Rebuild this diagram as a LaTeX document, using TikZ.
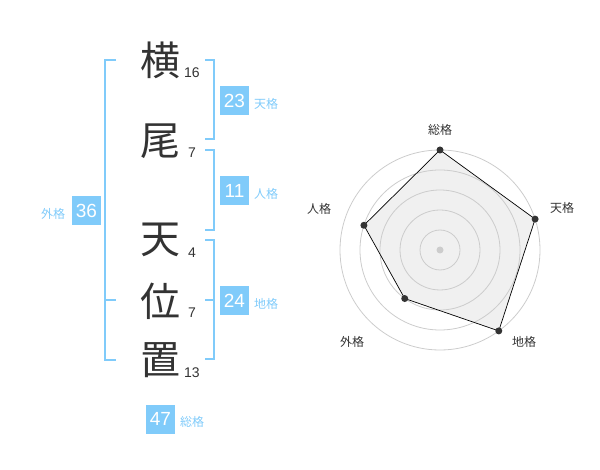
\documentclass[tikz,border=0pt]{standalone}
\usepackage{fontspec}
\setmainfont{Liberation Sans}
\newfontfamily\cjk{Noto Sans CJK JP}
\definecolor{kakublue}{HTML}{80CBFA}
\definecolor{inkgray}{HTML}{333333}
\definecolor{ringgray}{HTML}{CCCCCC}
\definecolor{areagray}{HTML}{F0F0F0}
\tikzset{
	kanji/.style={text=inkgray, font=\cjk\fontsize{40}{40}\selectfont, inner sep=0pt},
	kakusu/.style={text=inkgray, font=\fontsize{14}{14}\selectfont, inner sep=0pt},
	kakubox/.style={fill=kakublue, text=white, minimum size=29pt, inner sep=0pt, font=\fontsize{19}{19}\selectfont},
	kakuname/.style={text=kakublue, font=\cjk\fontsize{12}{12}\selectfont, inner sep=0pt},
	bracket/.style={draw=kakublue, line width=2pt},
	axisname/.style={text=inkgray, font=\cjk\fontsize{12}{12}\selectfont, inner sep=0pt},
	ring/.style={draw=ringgray, line width=0.8pt},
	dot/.style={circle, fill=inkgray, inner sep=0pt, minimum size=7pt},
}
\begin{document}
\begin{tikzpicture}[x=1pt, y=-1pt]
		\useasboundingbox (0,0) rectangle (600,470);

		% name
		\node[kanji] (sei1) at (160,60) {横};
		\node[kanji] (sei2) at (160,141) {尾};
		\node[kanji] (mei1) at (160,240) {天};
		\node[kanji] (mei2) at (160,301) {位};
		\node[kanji] (mei3) at (160,360) {置};

		\node[kakusu] (n1) at (192,73) {16};
		\node[kakusu] (n2) at (192,153) {7};
		\node[kakusu] (n3) at (192,253) {4};
		\node[kakusu] (n4) at (192,313) {7};
		\node[kakusu] (n5) at (192,373) {13};

		% brackets
		\draw[bracket] (116,60) -- (105,60) -- (105,360) -- (116,360);
		\draw[bracket] (105,300) -- (116,300);
		\draw[bracket] (205,60) -- (214,60) -- (214,139) -- (205,139);
		\draw[bracket] (205,150) -- (214,150) -- (214,230) -- (205,230);
		\draw[bracket] (205,240) -- (214,240) -- (214,359) -- (205,359);
		\draw[bracket] (205,300) -- (214,300);

		% kaku
		\node[kakubox] (tenkaku) at (234.5,100.5) {23};
		\node[kakubox] (jinkaku) at (234.5,190.5) {11};
		\node[kakubox] (chikaku) at (234.5,300.5) {24};
		\node[kakubox] (gaikaku) at (86.5,210.5) {36};
		\node[kakubox] (soukaku) at (160.5,419) {47};

		\node[kakuname] (tenname) at (266,104) {天格};
		\node[kakuname] (jinname) at (266,194) {人格};
		\node[kakuname] (chiname) at (266,304) {地格};
		\node[kakuname] (gainame) at (53,214) {外格};
		\node[kakuname] (souname) at (192,422) {総格};

		% radar
		\begin{scope}[shift={(440,250)}, y=1pt]
			\coordinate (ax-sou) at (90:100);
			\coordinate (ax-ten) at (18:100);
			\coordinate (ax-chi) at (-54:100);
			\coordinate (ax-gai) at (-126:60);
			\coordinate (ax-jin) at (162:80);

			\fill[areagray] (ax-sou) -- (ax-ten) -- (ax-chi) -- (ax-gai) -- (ax-jin) -- cycle;

			\draw[ring] (0,0) circle (20);
			\draw[ring] (0,0) circle (40);
			\draw[ring] (0,0) circle (60);
			\draw[ring] (0,0) circle (80);
			\draw[ring] (0,0) circle (100);
			\fill[ringgray] (0,0) circle (3.5);

			\draw[black, line width=0.7pt] (ax-sou) -- (ax-ten) -- (ax-chi) -- (ax-gai) -- (ax-jin) -- cycle;

			\node[dot] (d-sou) at (ax-sou) {};
			\node[dot] (d-ten) at (ax-ten) {};
			\node[dot] (d-chi) at (ax-chi) {};
			\node[dot] (d-gai) at (ax-gai) {};
			\node[dot] (d-jin) at (ax-jin) {};

			\node[axisname] (l-sou) at (0,120) {総格};
			\node[axisname] (l-ten) at (122,42) {天格};
			\node[axisname] (l-chi) at (84,-92) {地格};
			\node[axisname] (l-gai) at (-88,-92) {外格};
			\node[axisname] (l-jin) at (-121,41) {人格};
		\end{scope}
	\end{tikzpicture}
\end{document}
